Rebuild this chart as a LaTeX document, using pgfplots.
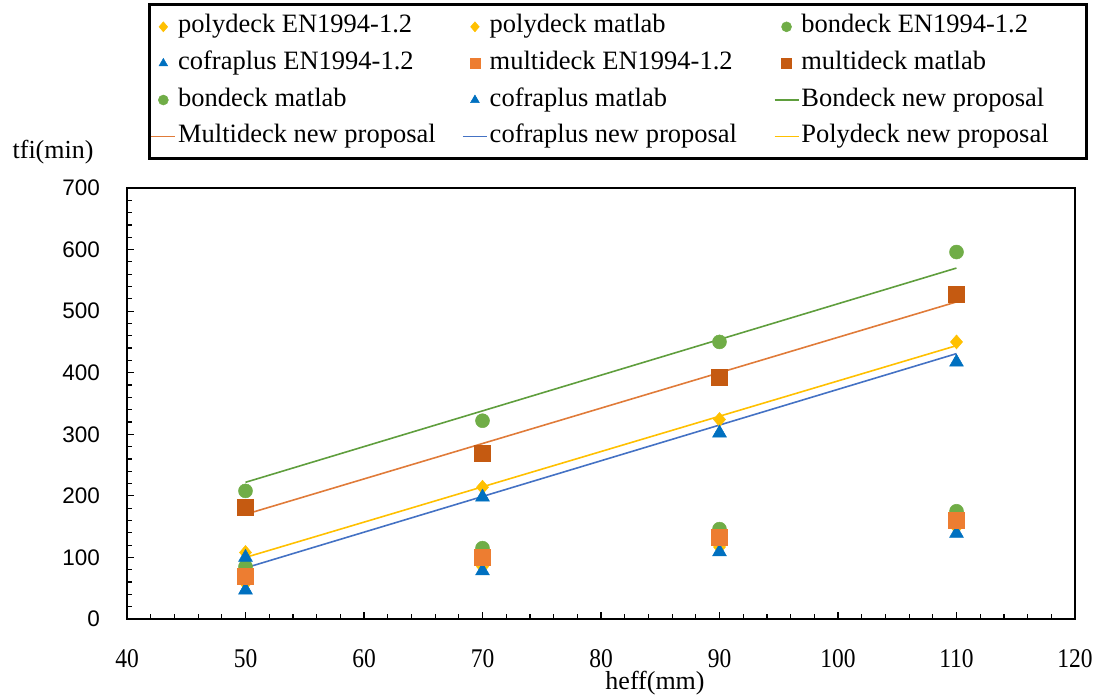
\documentclass[border=0pt]{standalone}
\usepackage{fontspec}
\setmainfont{Liberation Serif}
\newfontfamily\ysans{Liberation Sans}
\newfontfamily\xserif[FakeStretch=0.87]{Liberation Serif}
\usepackage{pgfplots}
\pgfplotsset{compat=1.18}
\definecolor{cyel}{HTML}{FFC000}
\definecolor{cgrn}{HTML}{70AD47}
\definecolor{cblu}{HTML}{0070C0}
\definecolor{corg}{HTML}{ED7D31}
\definecolor{cdor}{HTML}{C55A11}
\definecolor{lgrn}{HTML}{5F9E3D}
\definecolor{lorg}{HTML}{E07B39}
\definecolor{lblu}{HTML}{4472C4}
\pgfplotsset{
  mk/.style={only marks, legend image code/.code={\path[draw=none,fill=none] (0bp,0bp) -- (24bp,0bp); \draw[mark size=5bp] plot coordinates {(12bp,0bp)};}},
  ln/.style={no marks, line width=1.6bp, legend image code/.code={\draw[line width=1.6bp] (0bp,0bp) -- (24bp,0bp);}},
}
\newcommand{\lgent}[1]{\makebox[282bp][l]{#1}}
\begin{document}
\begin{tikzpicture}
\path[use as bounding box] (0bp,0bp) rectangle (1100bp,697bp);
\begin{axis}[
  at={(127bp,78bp)}, anchor=south west,
  scale only axis, width=948bp, height=431bp,
  xmin=40, xmax=120, ymin=0, ymax=700,
  xtick={40,50,...,120}, ytick={0,100,...,700},
  minor x tick num=4, minor y tick num=4,
  tick pos=left, tick align=inside,
  major tick length=7bp, minor tick length=4.5bp,
  tick style={black, line width=1.2bp},
  axis line style={line width=2.5bp},
  /pgf/number format/assume math mode=true,
  xticklabel style={font=\xserif\fontsize{27bp}{30bp}\selectfont, inner sep=0pt, yshift=-30bp},
  yticklabel style={font=\ysans\fontsize{22.5bp}{26bp}\selectfont, inner sep=0pt, xshift=-27bp},
  xlabel={heff(mm)},
  xlabel style={at={(axis description cs:0.557,-0.1497)}, anchor=center, font=\fontsize{26bp}{30bp}\selectfont},
  ylabel={tfi(min)},
  ylabel style={rotate=-90, at={(axis description cs:-0.078,1.0835)}, anchor=center, font=\fontsize{26bp}{30bp}\selectfont},
  legend columns=3,
  legend style={at={(axis description cs:0.0222,1.4292)}, anchor=north west, draw=black, line width=3bp,
    inner xsep=1bp, inner ysep=4bp, font=\fontsize{26.5bp}{30bp}\selectfont,
    nodes={inner xsep=2bp, inner ysep=6.3bp, text height=18bp, text depth=6bp},
    column sep=0pt, cells={anchor=center}},
]
% polydeck EN1994-1.2
\addplot[mk, color=cyel, mark=diamond*, mark size=7bp, mark options={fill=cyel, draw=cyel, line width=0.5bp, xscale=1.15}]
  coordinates {(50,58) (70,85) (90,117) (110,149)};
\addlegendentry{\lgent{polydeck EN1994-1.2}}
% polydeck matlab
\addplot[mk, color=cyel, mark=diamond*, mark size=7bp, mark options={fill=cyel, draw=cyel, line width=0.5bp, xscale=1.15}]
  coordinates {(50,108) (70,214) (90,324) (110,450)};
\addlegendentry{\lgent{polydeck matlab}}
% bondeck EN1994-1.2
\addplot[mk, color=cgrn, mark=*, mark size=7bp, mark options={fill=cgrn, draw=cgrn, line width=0.5bp}]
  coordinates {(50,85) (70,115) (90,146) (110,175)};
\addlegendentry{\lgent{bondeck EN1994-1.2}}
% cofraplus EN1994-1.2
\addplot[mk, color=cblu, mark=triangle*, mark size=8bp, mark options={fill=cblu, draw=cblu, line width=0.5bp}]
  coordinates {(50,47) (70,78) (90,109) (110,139)};
\addlegendentry{\lgent{cofraplus EN1994-1.2}}
% multideck EN1994-1.2
\addplot[mk, color=corg, mark=square*, mark size=8bp, mark options={fill=corg, draw=corg, line width=0.5bp}]
  coordinates {(50,70) (70,100) (90,133) (110,160)};
\addlegendentry{\lgent{multideck EN1994-1.2}}
% multideck matlab
\addplot[mk, color=cdor, mark=square*, mark size=8bp, mark options={fill=cdor, draw=cdor, line width=0.5bp}]
  coordinates {(50,181) (70,270) (90,392) (110,528)};
\addlegendentry{\lgent{multideck matlab}}
% bondeck matlab
\addplot[mk, color=cgrn, mark=*, mark size=7bp, mark options={fill=cgrn, draw=cgrn, line width=0.5bp}]
  coordinates {(50,208) (70,322) (90,450) (110,596)};
\addlegendentry{\lgent{bondeck matlab}}
% cofraplus matlab
\addplot[mk, color=cblu, mark=triangle*, mark size=8bp, mark options={fill=cblu, draw=cblu, line width=0.5bp}]
  coordinates {(50,100) (70,198) (90,302) (110,417)};
\addlegendentry{\lgent{cofraplus matlab}}
% new proposals
\addplot[ln, color=lgrn] coordinates {(50,222) (110,570)};
\addlegendentry{\lgent{Bondeck new proposal}}
\addplot[ln, color=lorg] coordinates {(50,170) (110,515)};
\addlegendentry{\lgent{Multideck new proposal}}
\addplot[ln, color=lblu] coordinates {(50,83) (110,431)};
\addlegendentry{\lgent{cofraplus new proposal}}
\addplot[ln, color=cyel] coordinates {(50,100) (110,444)};
\addlegendentry{\lgent{Polydeck new proposal}}
\end{axis}
\end{tikzpicture}
\end{document}
